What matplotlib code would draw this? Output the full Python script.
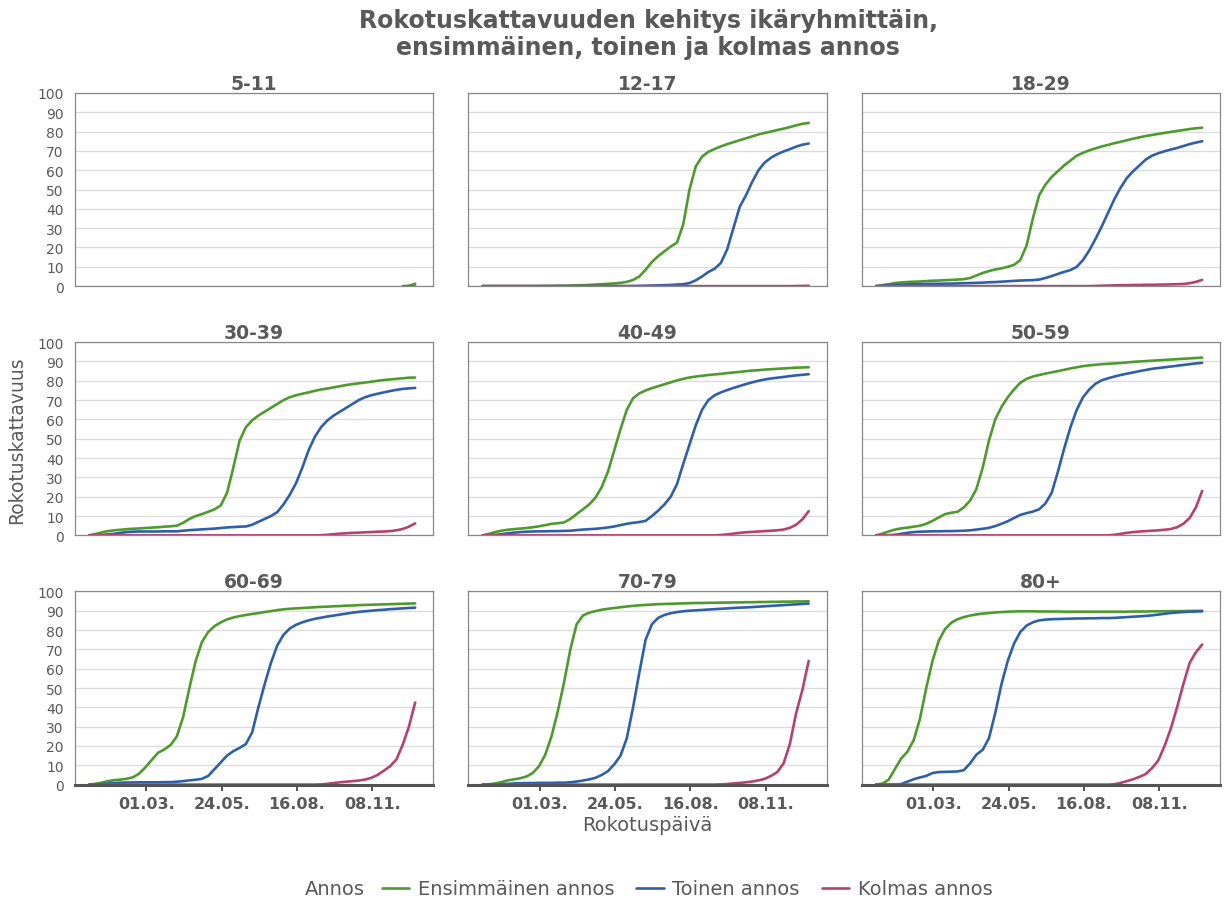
import numpy as np
import pandas as pd
import matplotlib.pyplot as plt
import matplotlib.dates as mdates

# weekly dates, 27.12.2020 - 26.12.2021
dates = pd.date_range('2020-12-27', periods=53, freq='7D')

age_groups = ['5-11', '12-17', '18-29', '30-39', '40-49', '50-59', '60-69', '70-79', '80+']
dose_labels = ['Ensimmäinen annos', 'Toinen annos', 'Kolmas annos']

nan = np.nan

first_5_11 = [nan] * 50 + [0.0, 0.2, 1.2]
second_5_11 = [nan] * 53
third_5_11 = [nan] * 50 + [0.0, 0.0, 0.0]

first_12_17 = [0, 0, 0, 0, 0, 0, 0, 0, 0, 0, 0.1, 0.1, 0.2, 0.2, 0.3, 0.4, 0.5, 0.6, 0.8, 1.0,
               1.2, 1.4, 1.7, 2.2, 3.2, 5, 8.5, 12.5, 15.5, 18, 20.5, 22.5, 32, 50, 62, 67, 69.5,
               71, 72.3, 73.5, 74.5, 75.5, 76.5, 77.5, 78.5, 79.3, 80, 80.8, 81.5, 82.3, 83.2, 84, 84.5]
second_12_17 = [0] * 25 + [0.1, 0.2, 0.3, 0.4, 0.5, 0.6, 0.8, 1.0, 1.6, 3, 5, 7.3, 9, 12, 19, 30,
                           41, 47, 54, 60, 64, 66.5, 68.3, 69.7, 70.9, 72.2, 73.2, 73.8]
third_12_17 = [0] * 50 + [0.05, 0.1, 0.2]

first_18_29 = [0, 0.5, 1.0, 1.6, 1.9, 2.1, 2.3, 2.4, 2.6, 2.8, 2.9, 3.1, 3.2, 3.4, 3.6, 4.2, 5.5,
               6.8, 7.8, 8.6, 9.2, 10, 11, 13.5, 21, 35, 47, 52.5, 56.5, 59.5, 62.5, 65, 67.5, 69,
               70.3, 71.3, 72.3, 73.1, 74, 74.7, 75.5, 76.3, 77, 77.7, 78.2, 78.8, 79.3, 79.8, 80.3,
               80.8, 81.3, 81.7, 82]
second_18_29 = [0, 0.2, 0.4, 0.6, 0.8, 0.9, 1.0, 1.1, 1.1, 1.2, 1.2, 1.3, 1.3, 1.4, 1.5, 1.6, 1.7,
                1.8, 2.0, 2.1, 2.3, 2.5, 2.7, 2.9, 3.0, 3.1, 3.4, 4.2, 5.2, 6.3, 7.4, 8.3, 10, 13.5,
                18.5, 24.5, 31, 38, 45, 51, 56, 59.5, 62.5, 65.5, 67.5, 68.8, 69.8, 70.7, 71.5, 72.5,
                73.5, 74.3, 75]
third_18_29 = [0] * 35 + [0.1, 0.2, 0.3, 0.4, 0.5, 0.5, 0.6, 0.6, 0.7, 0.7, 0.8, 0.8, 0.9, 1.0,
                          1.1, 1.5, 2.2, 3.2]

first_30_39 = [0, 0.7, 1.5, 2.2, 2.6, 2.9, 3.2, 3.4, 3.6, 3.8, 4.0, 4.2, 4.5, 4.7, 5.0, 6.5, 8.5,
               10, 11, 12.2, 13.5, 15.5, 22, 35, 49, 56, 59.5, 62, 64, 66, 68, 70, 71.5, 72.5, 73.3,
               74, 74.8, 75.5, 76, 76.6, 77.2, 77.8, 78.3, 78.7, 79.1, 79.5, 80, 80.4, 80.7, 81,
               81.3, 81.6, 81.7]
second_30_39 = [0, 0.1, 0.2, 0.5, 0.8, 1.3, 1.7, 1.9, 2.0, 2.0, 2.0, 2.0, 2.1, 2.1, 2.1, 2.4, 2.7,
                2.9, 3.1, 3.3, 3.5, 3.8, 4.1, 4.3, 4.5, 4.6, 5.5, 7.0, 8.5, 10.0, 12, 16, 21, 27, 35,
                44, 51, 56, 59.5, 62, 64, 66, 68, 70, 71.5, 72.5, 73.3, 74, 74.7, 75.3, 75.8, 76.1,
                76.3]
third_30_39 = [0] * 37 + [0.1, 0.3, 0.6, 0.9, 1.1, 1.3, 1.4, 1.6, 1.7, 1.9, 2.0, 2.2, 2.6, 3.3,
                          4.5, 6.2]

first_40_49 = [0, 0.8, 1.7, 2.4, 2.9, 3.2, 3.5, 3.8, 4.2, 4.7, 5.3, 6.0, 6.3, 6.7, 8.5, 11, 13.5,
               16, 19.5, 25, 33, 44, 55, 65, 71, 73.5, 75, 76.2, 77.2, 78.2, 79.2, 80.2, 81, 81.7,
               82.2, 82.6, 83, 83.3, 83.6, 84, 84.3, 84.6, 85, 85.3, 85.5, 85.8, 86, 86.2, 86.4,
               86.6, 86.8, 86.9, 87]
second_40_49 = [0, 0.1, 0.3, 0.6, 1.0, 1.4, 1.7, 1.9, 2.0, 2.1, 2.1, 2.2, 2.2, 2.3, 2.4, 2.7, 3.0,
                3.2, 3.4, 3.7, 4.1, 4.6, 5.3, 6.0, 6.5, 6.9, 7.5, 10, 12.8, 16, 20, 26.5, 37, 47, 57,
                65, 70, 72.5, 74, 75.2, 76.3, 77.3, 78.3, 79.2, 80, 80.7, 81.2, 81.6, 82, 82.4, 82.8,
                83.1, 83.4]
third_40_49 = [0] * 38 + [0.2, 0.5, 0.9, 1.3, 1.6, 1.8, 2.0, 2.2, 2.4, 2.6, 3.0, 3.9, 5.5, 8.3,
                          12.5]

first_50_59 = [0, 0.9, 2.0, 3.0, 3.6, 4.0, 4.5, 5.0, 6.0, 7.5, 9.3, 11, 11.7, 12.2, 14.5, 18, 24,
               35, 49, 60, 66.5, 71.5, 75.5, 79, 81, 82.2, 83, 83.7, 84.4, 85, 85.7, 86.4, 87,
               87.6, 88, 88.3, 88.6, 88.8, 89, 89.2, 89.5, 89.8, 90, 90.2, 90.4, 90.6, 90.8, 91,
               91.2, 91.4, 91.6, 91.8, 92]
second_50_59 = [0, 0, 0.1, 0.3, 0.8, 1.3, 1.7, 1.9, 2.0, 2.1, 2.1, 2.2, 2.2, 2.3, 2.4, 2.6, 3.0,
                3.4, 3.9, 4.8, 6.0, 7.3, 9, 10.6, 11.5, 12.3, 13.5, 16.5, 22, 33, 45, 56, 65, 71.5,
                75.5, 78.5, 80.3, 81.3, 82.2, 83, 83.7, 84.3, 85, 85.6, 86.2, 86.6, 87, 87.4, 87.8,
                88.2, 88.6, 89, 89.3]
third_50_59 = [0] * 38 + [0.3, 0.8, 1.3, 1.7, 2.0, 2.2, 2.4, 2.6, 2.9, 3.3, 4.2, 6, 9, 14.5, 23]

first_60_69 = [0, 0.4, 1.0, 1.8, 2.3, 2.6, 3.0, 3.8, 5.7, 9, 12.8, 16.5, 18.2, 20.5, 25, 35, 50,
               64, 73.8, 79, 82, 84, 85.5, 86.5, 87.2, 87.8, 88.3, 88.8, 89.3, 89.8, 90.3, 90.7,
               91, 91.2, 91.4, 91.6, 91.8, 92, 92.1, 92.3, 92.4, 92.6, 92.7, 92.9, 93, 93.1, 93.2,
               93.3, 93.4, 93.5, 93.6, 93.7, 93.8]
second_60_69 = [0, 0.1, 0.3, 0.6, 0.8, 1.0, 1.1, 1.1, 1.2, 1.2, 1.2, 1.2, 1.3, 1.3, 1.5, 1.8, 2.2,
                2.5, 3.0, 4.5, 8, 11.5, 15, 17.3, 19, 21, 27, 40, 52, 63, 72, 77.5, 80.8, 82.7, 84,
                85, 85.8, 86.4, 87, 87.5, 88, 88.5, 89, 89.4, 89.7, 90, 90.3, 90.5, 90.8, 91, 91.2,
                91.4, 91.6]
third_60_69 = [0] * 37 + [0.1, 0.4, 0.8, 1.2, 1.5, 1.8, 2.1, 2.6, 3.5, 5, 7.2, 9.5, 13, 20.5, 30,
                          42.5]

first_70_79 = [0, 0.2, 0.6, 1.3, 2.2, 2.7, 3.3, 4.2, 6, 9.5, 15.5, 25, 38, 53, 70, 83, 87.5, 89,
               89.8, 90.5, 91, 91.4, 91.8, 92.2, 92.5, 92.8, 93, 93.2, 93.4, 93.5, 93.6, 93.7, 93.8,
               93.9, 94, 94, 94.1, 94.1, 94.2, 94.2, 94.3, 94.3, 94.4, 94.4, 94.5, 94.5, 94.6,
               94.6, 94.7, 94.7, 94.8, 94.8, 94.9]
second_70_79 = [0, 0, 0.1, 0.2, 0.4, 0.6, 0.7, 0.8, 0.8, 0.9, 0.9, 0.9, 1.0, 1.0, 1.2, 1.6, 2.1,
                2.7, 3.5, 5, 7, 10.5, 15, 24, 40, 58, 75, 83, 86.3, 87.8, 88.7, 89.3, 89.7, 90,
                90.2, 90.4, 90.6, 90.8, 91, 91.2, 91.4, 91.6, 91.7, 91.9, 92.1, 92.3, 92.5, 92.7,
                92.9, 93.1, 93.3, 93.5, 93.7]
third_70_79 = [0] * 38 + [0.1, 0.3, 0.6, 0.9, 1.2, 1.6, 2.2, 3, 4.5, 6.5, 11, 21, 37, 49, 64]

first_80 = [0, 0.5, 2.5, 8, 13.5, 17, 23, 34, 50, 64, 74.5, 80.5, 83.8, 85.6, 86.7, 87.5, 88.1,
            88.5, 88.8, 89.1, 89.3, 89.5, 89.6, 89.7, 89.7, 89.7, 89.6, 89.6, 89.6, 89.6, 89.5,
            89.5, 89.5, 89.5, 89.5, 89.5, 89.5, 89.5, 89.5, 89.5, 89.5, 89.6, 89.6, 89.6, 89.7,
            89.7, 89.7, 89.8, 89.8, 89.8, 89.9, 89.9, 90]
second_80 = [0, 0, 0, 0, 0.3, 1.5, 2.8, 3.7, 4.5, 6, 6.5, 6.6, 6.7, 6.8, 7.5, 11, 15.5, 18, 24, 37,
             52, 64, 73, 79, 82.3, 84, 85, 85.4, 85.6, 85.7, 85.8, 85.9, 86, 86, 86.1, 86.1, 86.2,
             86.2, 86.3, 86.5, 86.7, 86.9, 87.1, 87.3, 87.6, 88, 88.4, 88.8, 89.1, 89.3, 89.5,
             89.6, 89.7]
third_80 = [0] * 38 + [0.2, 0.9, 1.8, 2.8, 4, 5.5, 8.5, 12.5, 20, 29, 40, 52, 63, 68.5, 72.5]

coverage = {
    '5-11': [first_5_11, second_5_11, third_5_11],
    '12-17': [first_12_17, second_12_17, third_12_17],
    '18-29': [first_18_29, second_18_29, third_18_29],
    '30-39': [first_30_39, second_30_39, third_30_39],
    '40-49': [first_40_49, second_40_49, third_40_49],
    '50-59': [first_50_59, second_50_59, third_50_59],
    '60-69': [first_60_69, second_60_69, third_60_69],
    '70-79': [first_70_79, second_70_79, third_70_79],
    '80+': [first_80, second_80, third_80],
}

colors = ['#4e9a2d', '#2f5fab', '#b5416f']
text_color = '#595959'

tick_dates = pd.to_datetime(['2021-03-01', '2021-05-24', '2021-08-16', '2021-11-08'])

fig, axes = plt.subplots(3, 3, figsize=(12.25, 9.03), dpi=100, sharex=True, sharey=True)
fig.subplots_adjust(left=0.061, right=0.996, top=0.896, bottom=0.13, wspace=0.098, hspace=0.29)

for idx, group in enumerate(age_groups):
    ax = axes.flatten()[idx]
    for values, color, label in zip(coverage[group], colors, dose_labels):
        ax.plot(dates, values, color=color, lw=1.9, label=label, solid_capstyle='round')

    ax.set_title(group, fontsize=13.5, fontweight='bold', color=text_color, pad=3)
    ax.set_ylim(0, 100)
    ax.set_yticks(np.arange(0, 101, 10))
    ax.set_xlim(pd.Timestamp('2020-12-11'), pd.Timestamp('2022-01-15'))
    ax.set_xticks(tick_dates)
    ax.xaxis.set_major_formatter(mdates.DateFormatter('%d.%m.'))
    ax.grid(axis='y', color='#dddddd', lw=1)
    ax.set_axisbelow(True)
    for side in ['top', 'left', 'right', 'bottom']:
        ax.spines[side].set_color('#888888')
        ax.spines[side].set_linewidth(0.9)
    ax.tick_params(axis='y', length=0, labelsize=10, labelcolor=text_color, pad=8)
    if idx >= 6:
        ax.spines['bottom'].set_color('#555555')
        ax.spines['bottom'].set_linewidth(2.2)
        ax.tick_params(axis='x', length=4, width=1.2, color='#333333', labelsize=11.5,
                       labelcolor=text_color, pad=4)
        for lbl in ax.get_xticklabels():
            lbl.set_fontweight('bold')
    else:
        ax.tick_params(axis='x', length=0)

axes[1, 0].set_ylabel('Rokotuskattavuus', fontsize=13.5, color=text_color, labelpad=8)
axes[2, 1].set_xlabel('Rokotuspäivä', fontsize=14, color=text_color, labelpad=3)

fig.suptitle('Rokotuskattavuuden kehitys ikäryhmittäin,\nensimmäinen, toinen ja kolmas annos',
             x=0.529, fontsize=17, fontweight='bold', color=text_color, y=0.99, linespacing=1.15)

handles, labels = axes[0, 1].get_legend_handles_labels()
fig.text(0.249, 0.0145, 'Annos', fontsize=14, color=text_color, va='center')
leg = fig.legend(handles, labels, loc='center', bbox_to_anchor=(0.561, 0.0145), ncol=3,
                 frameon=False, fontsize=14, handlelength=1.4, columnspacing=1.15,
                 handletextpad=0.45)
for t in leg.get_texts():
    t.set_color(text_color)
for h in leg.get_lines():
    h.set_linewidth(1.9)

fig.savefig('out.png', dpi=100, facecolor='white')
